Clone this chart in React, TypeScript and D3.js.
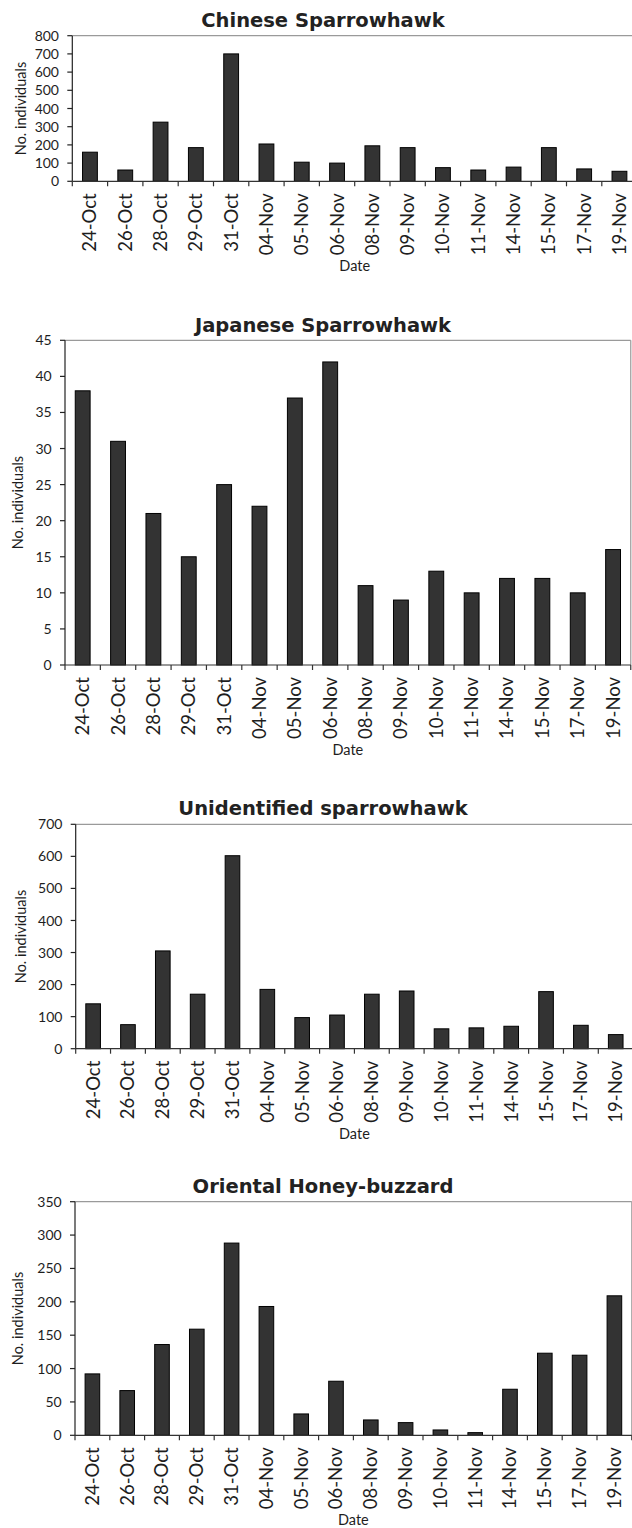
import React from 'react';
import * as d3 from 'd3';

const dates = ['24-Oct', '26-Oct', '28-Oct', '29-Oct', '31-Oct', '04-Nov', '05-Nov', '06-Nov', '08-Nov', '09-Nov', '10-Nov', '11-Nov', '14-Nov', '15-Nov', '17-Nov', '19-Nov'];

const chineseSparrowhawk = [160, 62, 325, 185, 700, 205, 105, 100, 195, 185, 75, 62, 78, 185, 68, 55];
const japaneseSparrowhawk = [38, 31, 21, 15, 25, 22, 37, 42, 11, 9, 13, 10, 12, 12, 10, 16];
const unidentifiedSparrowhawk = [140, 75, 305, 170, 602, 185, 97, 105, 170, 180, 62, 65, 70, 178, 73, 44];
const orientalHoneyBuzzard = [92, 67, 136, 159, 288, 193, 32, 81, 23, 19, 8, 4, 69, 123, 120, 209];

const chineseTicks = [0, 100, 200, 300, 400, 500, 600, 700, 800];
const japaneseTicks = [0, 5, 10, 15, 20, 25, 30, 35, 40, 45];
const unidentifiedTicks = [0, 100, 200, 300, 400, 500, 600, 700];
const honeyBuzzardTicks = [0, 50, 100, 150, 200, 250, 300, 350];

const titles = ['Chinese Sparrowhawk', 'Japanese Sparrowhawk', 'Unidentified sparrowhawk', 'Oriental Honey-buzzard'];
const yAxisTitle = 'No. individuals';
const xAxisTitle = 'Date';

const layouts = [
  { x0: 72.3, step: 35.3, yTop: 35.7, yZero: 181.3, titleY: 26.7, yLabelX: 26, rightBorder: false },
  { x0: 65, step: 35.36, yTop: 340.3, yZero: 665, titleY: 331.7, yLabelX: 22.7, rightBorder: true },
  { x0: 75.7, step: 34.84, yTop: 824.3, yZero: 1048.7, titleY: 814.5, yLabelX: 26, rightBorder: false },
  { x0: 75, step: 34.8, yTop: 1201.7, yZero: 1435.3, titleY: 1193.3, yLabelX: 23.3, rightBorder: true },
];

const TXT = '#1e1e1e';
const FONT = 'Lato, "Open Sans", sans-serif';

function Panel({ title, values, ticks, layout }: any) {
  const { x0, step, yTop, yZero, titleY, yLabelX, rightBorder } = layout;
  const x1 = x0 + step * dates.length;
  const x = d3.scaleBand<string>().domain(dates).range([x0, x1]).padding(0);
  const y = d3.scaleLinear().domain([0, ticks[ticks.length - 1]]).range([yZero, yTop]);
  const bw = x.bandwidth() * 0.42;
  const boundaries = d3.range(dates.length + 1).map((i) => x0 + i * x.step());
  return (
    <g>
      <text x={323} y={titleY} textAnchor="middle" fontFamily='"DejaVu Sans", sans-serif' fontWeight="bold" fontSize={19.5} fill="#222">{title}</text>
      {/* plot border (top / right) */}
      <line x1={x0} x2={x1} y1={yTop} y2={yTop} stroke="#9a9a9a" strokeWidth={1.2} />
      {rightBorder && <line x1={x1} x2={x1} y1={yTop} y2={yZero} stroke="#9a9a9a" strokeWidth={1.2} />}
      {/* bars */}
      {values.map((v: number, i: number) => {
        const cx = (x(dates[i]) as number) + x.bandwidth() / 2;
        return (
          <rect key={i} x={cx - bw / 2} y={y(v)} width={bw} height={yZero - y(v)} fill="#333333" stroke="#000" strokeWidth={1} />
        );
      })}
      {/* y axis */}
      <line x1={x0} x2={x0} y1={yTop} y2={yZero} stroke="#222" strokeWidth={1.2} />
      {ticks.map((t: number) => (
        <g key={t}>
          <line x1={x0 - 5} x2={x0} y1={y(t)} y2={y(t)} stroke="#222" strokeWidth={1.2} />
          <text x={x0 - 13.3} y={y(t)} dy="0.36em" textAnchor="end" fontFamily={FONT} fontSize={14} fill={TXT}>{t}</text>
        </g>
      ))}
      {/* x axis */}
      <line x1={x0} x2={x1} y1={yZero} y2={yZero} stroke="#333" strokeWidth={1.2} />
      {boundaries.map((bx: number, i: number) => (
        <line key={i} x1={bx} x2={bx} y1={yZero} y2={yZero + 5} stroke="#333" strokeWidth={1.2} />
      ))}
      {dates.map((d) => {
        const cx = (x(d) as number) + x.bandwidth() / 2;
        return (
          <text key={d} transform={`translate(${cx},${yZero + 12}) rotate(-90)`} dy="0.35em" textAnchor="end" fontFamily={FONT} fontSize={18.5} fill={TXT}>{d}</text>
        );
      })}
      <text x={(x0 + x1) / 2} y={yZero + 90} textAnchor="middle" fontFamily={FONT} fontSize={14.5} fill={TXT}>{xAxisTitle}</text>
      <text transform={`translate(${yLabelX},${(yTop + yZero) / 2}) rotate(-90)`} textAnchor="middle" fontFamily={FONT} fontSize={14.5} fill={TXT}>{yAxisTitle}</text>
    </g>
  );
}

export default function App() {
  const series = [chineseSparrowhawk, japaneseSparrowhawk, unidentifiedSparrowhawk, orientalHoneyBuzzard];
  const tickSets = [chineseTicks, japaneseTicks, unidentifiedTicks, honeyBuzzardTicks];
  return (
    <svg width={632} height={1528} style={{ position: 'absolute', left: 0, top: 0, background: '#fff' }}>
      <rect width={632} height={1528} fill="#fff" />
      {series.map((vals, i) => (
        <Panel key={i} title={titles[i]} values={vals} ticks={tickSets[i]} layout={layouts[i]} />
      ))}
    </svg>
  );
}
